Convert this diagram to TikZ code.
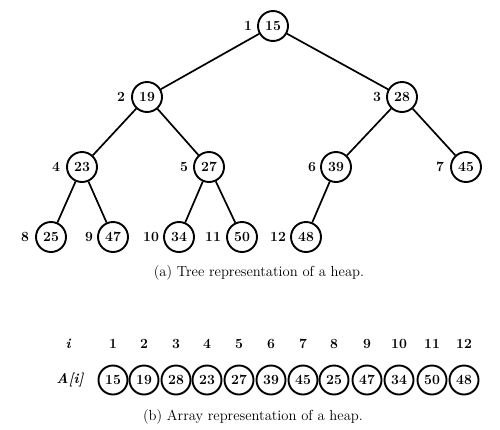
\documentclass[tikz,border=0pt]{standalone}
\begin{document}
\begin{tikzpicture}[x=1pt,y=-1pt,
  hn/.style={circle,draw,line width=1.9pt,minimum size=30pt,inner sep=0pt,font=\fontsize{14}{16}\selectfont\bfseries},
  an/.style={circle,draw,line width=1.9pt,minimum size=29pt,inner sep=0pt,font=\fontsize{14}{16}\selectfont\bfseries},
  lb/.style={font=\fontsize{14}{16}\selectfont\bfseries,inner sep=0pt},
  captxt/.style={font=\fontsize{14.6}{17}\selectfont,inner sep=0pt},
  conn/.style={line width=1.7pt}]
\useasboundingbox (0,0) rectangle (500,429);
% tree nodes
\node[hn] (n1) at (273,26) {15};
\node[hn] (n2) at (147,97) {19};
\node[hn] (n3) at (402,97) {28};
\node[hn] (n4) at (82,167) {23};
\node[hn] (n5) at (209,167) {27};
\node[hn] (n6) at (336,167) {39};
\node[hn] (n7) at (466,167) {45};
\node[hn] (n8) at (51,237) {25};
\node[hn] (n9) at (113,237) {47};
\node[hn] (n10) at (179,237) {34};
\node[hn] (n11) at (242,237) {50};
\node[hn] (n12) at (306,237) {48};
% index labels
\node[lb] (l1) at (248,26) {1};
\node[lb] (l2) at (121,97) {2};
\node[lb] (l3) at (377,97) {3};
\node[lb] (l4) at (56,167) {4};
\node[lb] (l5) at (184,167) {5};
\node[lb] (l6) at (312,167) {6};
\node[lb] (l7) at (440,167) {7};
\node[lb] (l8) at (25,237) {8};
\node[lb] (l9) at (89,237) {9};
\node[lb] (l10) at (151,237) {10};
\node[lb] (l11) at (213,237) {11};
\node[lb] (l12) at (278,237) {12};
% edges
\draw[conn] (n1) -- (n2);
\draw[conn] (n1) -- (n3);
\draw[conn] (n2) -- (n4);
\draw[conn] (n2) -- (n5);
\draw[conn] (n3) -- (n6);
\draw[conn] (n3) -- (n7);
\draw[conn] (n4) -- (n8);
\draw[conn] (n4) -- (n9);
\draw[conn] (n5) -- (n10);
\draw[conn] (n5) -- (n11);
\draw[conn] (n6) -- (n12);
\node[captxt] (capa) at (259,273) {(a) Tree representation of a heap.};
% array
\node[lb] (ihead) at (68,344) {\itshape i};
\node[lb] (ahead) at (70,380) {\itshape A[i]};
\foreach \k/\x/\v in {1/113/15,2/144/19,3/176/28,4/207/23,5/239/27,6/271/39,7/303/45,8/334/25,9/367/47,10/399/34,11/432/50,12/464/48}{
  \node[lb] (i\k) at (\x,344) {\k};
  \node[an] (a\k) at (\x,380) {\v};
}
\node[captxt] (capb) at (253,417) {(b) Array representation of a heap.};
\end{tikzpicture}
\end{document}
